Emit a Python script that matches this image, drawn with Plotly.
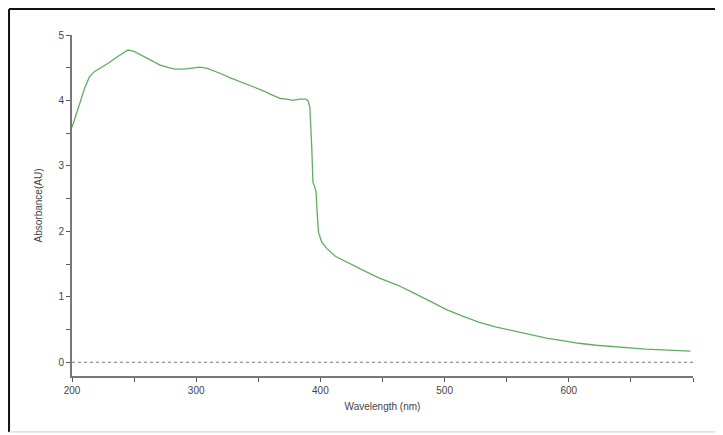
import plotly.graph_objects as go

wavelength = [200, 203, 207, 210, 214, 218, 225, 230, 236, 241, 245, 250, 257, 264, 271,
              278, 283, 290, 297, 303, 309, 315, 321, 327, 334, 341, 348, 355, 359, 364,
              368, 373, 378, 383, 388, 390, 391.5, 393, 394, 395.5, 396.5, 397.5, 398.5,
              401, 405, 412, 420, 428, 437, 447, 455, 462, 475, 488, 502, 515, 528, 541,
              555, 568, 582, 595, 608, 622, 635, 648, 662, 675, 688, 698]
absorbance = [3.59, 3.78, 4.00, 4.18, 4.36, 4.44, 4.52, 4.58, 4.66, 4.72, 4.77, 4.75, 4.68,
              4.61, 4.54, 4.50, 4.48, 4.48, 4.49, 4.51, 4.49, 4.45, 4.40, 4.35, 4.30, 4.25,
              4.19, 4.14, 4.10, 4.06, 4.03, 4.02, 4.00, 4.02, 4.02, 4.00, 3.90, 3.30, 2.75,
              2.68, 2.60, 2.25, 1.98, 1.84, 1.74, 1.62, 1.54, 1.46, 1.38, 1.29, 1.23, 1.18,
              1.06, 0.93, 0.80, 0.70, 0.61, 0.54, 0.48, 0.42, 0.37, 0.33, 0.29, 0.26, 0.24,
              0.22, 0.20, 0.19, 0.18, 0.17]
baseline_x = [200, 700]
baseline_y = [0, 0]
x_ticks = [200, 300, 400, 500, 600]
y_ticks = [0, 1, 2, 3, 4, 5]

fig = go.Figure()
fig.add_trace(go.Scatter(x=baseline_x, y=baseline_y, mode="lines",
                         line=dict(color="#777777", width=1.2, dash="dot"),
                         hoverinfo="skip", showlegend=False, cliponaxis=False))
fig.add_trace(go.Scatter(x=wavelength, y=absorbance, mode="lines",
                         line=dict(color="#5fae5f", width=1.3),
                         showlegend=False))

font = dict(family="Liberation Sans, Arial, sans-serif", size=10, color="#444444")

fig.update_layout(
    width=715, height=427,
    margin=dict(l=64, r=30, t=27, b=59, autoexpand=False),
    paper_bgcolor="white", plot_bgcolor="white",
    font=font,
    xaxis=dict(range=[200, 700], tickvals=x_ticks, ticktext=[str(v) for v in x_ticks],
               automargin=False,
               showgrid=False, zeroline=False, showline=True, linecolor="#777777",
               linewidth=2, ticks="outside", ticklen=4, tickcolor="#555555",
               minor=dict(dtick=50, tick0=200, ticks="outside", ticklen=4,
                          tickcolor="#555555", showgrid=False),
               title=dict(text="Wavelength (nm)", standoff=8, font=font)),
    yaxis=dict(range=[-0.21, 5], tickvals=y_ticks, automargin=False,
               showgrid=False, zeroline=False, showline=True, linecolor="#777777",
               linewidth=2, ticks="outside", ticklen=4, tickcolor="#555555",
               minor=dict(dtick=0.5, tick0=0, ticks="outside", ticklen=4,
                          tickcolor="#555555", showgrid=False),
               title=dict(text="Absorbance(AU)", standoff=14, font=font)),
)

# outer frame
fig.add_shape(type="line", xref="paper", yref="paper", x0=-0.1014, x1=-0.1014, y0=-0.164, y1=1.076,
              line=dict(color="#111111", width=2))
fig.add_shape(type="line", xref="paper", yref="paper", x0=-0.1014, x1=1.045, y0=1.076, y1=1.076,
              line=dict(color="#111111", width=2))
fig.add_shape(type="line", xref="paper", yref="paper", x0=1.045, x1=1.045, y0=-0.164, y1=1.076,
              line=dict(color="#cccccc", width=1))
fig.add_shape(type="line", xref="paper", yref="paper", x0=-0.1014, x1=1.045, y0=-0.164, y1=-0.164,
              line=dict(color="#cccccc", width=1))

fig.write_html("out.html")
